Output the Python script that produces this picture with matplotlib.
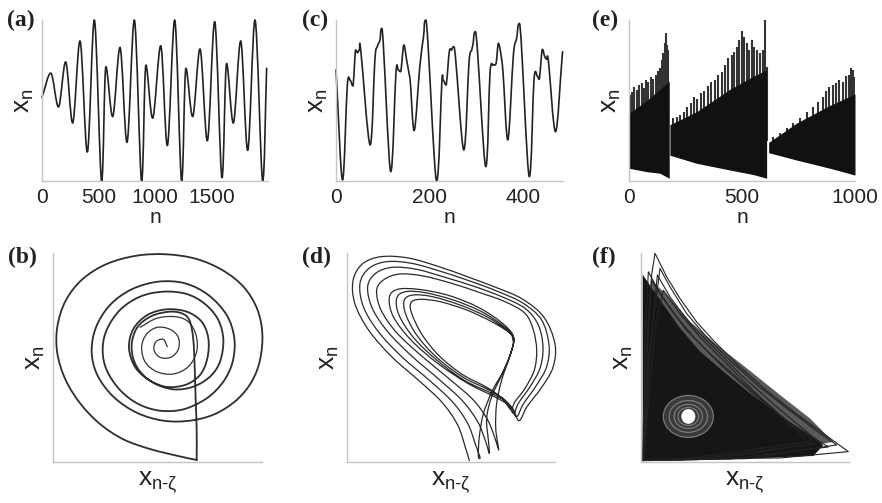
import numpy as np
import matplotlib
matplotlib.use('Agg')
import matplotlib.pyplot as plt
from matplotlib.path import Path
from matplotlib.patches import PathPatch, Ellipse

plt.rcParams['font.family'] = ['Liberation Sans', 'DejaVu Sans']
plt.rcParams['mathtext.fontset'] = 'custom'
plt.rcParams['mathtext.rm'] = 'Liberation Sans'
plt.rcParams['mathtext.it'] = 'Liberation Sans'

# (a) time series: turning points
a_n = [0, 77, 145, 209, 271, 336, 401, 463, 528, 566, 625, 690, 752, 817, 882,
       920, 979, 1050, 1109, 1174, 1236, 1274, 1333, 1398, 1463, 1528, 1593,
       1634, 1693, 1758, 1820, 1885, 1953, 1988]
a_x = [0.52, 0.67, 0.46, 0.74, 0.36, 0.87, 0.18, 1.0, 0.0, 0.71, 0.40, 0.83,
       0.24, 1.0, 0.0, 0.72, 0.39, 0.84, 0.22, 1.0, 0.0, 0.70, 0.40, 0.82,
       0.25, 0.99, 0.02, 0.73, 0.36, 0.87, 0.19, 1.0, 0.0, 0.70]

# (c) time series
c_n = [0, 14, 24, 30, 36, 42, 46, 50, 53, 73, 83, 88, 94, 98, 117, 128, 133,
       138, 145, 151, 156, 159, 167, 179, 187, 192, 215, 226, 229, 235, 242,
       247, 252, 273, 284, 290, 293, 298, 320, 329, 336, 342, 347, 352, 357,
       367, 379, 386, 392, 413, 423, 430, 434, 441, 446, 450, 454, 469, 484]
c_x = [0.69, 0.006, 0.586, 0.627, 0.59, 0.814, 0.797, 0.814, 0.81, 0.224,
       0.75, 0.834, 0.876, 0.948, 0.058, 0.669, 0.689, 0.679, 0.845, 0.75,
       0.669, 0.607, 0.313, 0.71, 0.896, 1.0, 0.0, 0.607, 0.627, 0.596, 0.803,
       0.814, 0.834, 0.193, 0.731, 0.814, 0.855, 0.928, 0.089, 0.669, 0.72,
       0.731, 0.855, 0.793, 0.669, 0.255, 0.783, 0.886, 0.979, 0.027, 0.627,
       0.652, 0.631, 0.818, 0.772, 0.756, 0.741, 0.306, 0.803]

# (e) three bursts: envelope of the dense band and the tallest spikes
e_seg_n = [[0, 78, 137, 178], [181, 299, 447, 550, 609], [618, 742, 889, 1000]]
e_seg_lo = [[0.079, 0.058, 0.048, 0.017], [0.16, 0.11, 0.068, 0.04, 0.017],
            [0.176, 0.13, 0.079, 0.037]]
e_seg_hi = [[0.42, 0.50, 0.57, 0.62], [0.35, 0.43, 0.57, 0.65, 0.69],
            [0.24, 0.36, 0.47, 0.54]]
e_spike_n = [[4, 15, 24, 34, 44, 56, 66, 75, 86, 96, 108, 118, 127, 137, 146,
              152, 159, 164, 170, 174],
             [193, 211, 226, 243, 258, 274, 288, 302, 317, 332, 348, 363, 381,
              395, 410, 425, 440, 454, 465, 476, 488, 499, 509, 521, 532, 543,
              553, 565, 580, 591, 602, 609],
             [639, 668, 698, 727, 757, 786, 816, 838, 857, 872, 886, 901, 916,
              931, 945, 960, 972, 981, 990, 999]]
e_spike_top = [[0.534, 0.555, 0.582, 0.567, 0.598, 0.609, 0.577, 0.627, 0.617,
                0.644, 0.633, 0.660, 0.681, 0.700, 0.752, 0.793, 0.855, 0.921,
                0.845, 0.814],
               [0.389, 0.400, 0.410, 0.431, 0.458, 0.482, 0.524, 0.507, 0.545,
                0.561, 0.590, 0.617, 0.627, 0.658, 0.679, 0.720, 0.762, 0.783,
                0.803, 0.834, 0.876, 0.932, 0.896, 0.855, 0.814, 0.876, 0.834,
                0.814, 0.793, 0.814, 1.0, 0.710],
               [0.275, 0.296, 0.327, 0.358, 0.389, 0.431, 0.462, 0.493, 0.524,
                0.561, 0.582, 0.596, 0.607, 0.627, 0.617, 0.652, 0.658, 0.700,
                0.689, 0.644]]
e_spike_base = [0.3, 0.25, 0.2]

# (b) delay portrait: one cycle (outer loop, rings, stem) and the start-up spiral
b_u = [440, 380, 300, 220, 150, 92, 47, 22, 22, 47, 97, 170, 260, 350, 440,
       520, 582, 622, 637, 630, 605, 560, 495, 420, 340, 260, 190, 142, 125,
       138, 180, 245, 325, 405, 475, 530, 553, 548, 520, 470, 400, 330, 265,
       210, 170, 158, 170, 210, 270, 340, 410, 465, 505, 520, 510, 480, 430,
       370, 310, 258, 237, 250, 292, 350, 410, 455, 475, 472, 450, 405, 345,
       290, 255, 245, 262, 305, 360, 400, 420, 430, 434, 437, 440, 440]
b_v = [6, 19, 39, 68, 114, 174, 246, 326, 406, 484, 548, 594, 619, 623, 609,
       574, 524, 458, 384, 306, 241, 186, 144, 124, 124, 148, 196, 261, 331,
       404, 471, 518, 541, 536, 501, 441, 371, 301, 241, 191, 158, 154, 174,
       216, 276, 336, 396, 456, 496, 511, 504, 474, 426, 366, 301, 256, 226,
       218, 238, 281, 341, 399, 441, 458, 451, 421, 371, 311, 261, 231, 226,
       251, 296, 351, 404, 438, 451, 444, 421, 366, 286, 186, 96, 6]
b0_u = [352, 340, 318, 312, 330, 362, 385, 385, 360, 322, 290, 275, 285, 320,
        370, 415, 440, 438, 415, 375, 320, 270]
b0_v = [346, 368, 361, 336, 314, 314, 338, 374, 398, 404, 384, 346, 301, 271,
        264, 286, 331, 381, 421, 436, 431, 404]

# (d) delay portrait: four successive turns
d_u = [373, 362, 338, 292, 222, 142, 72, 30, 24, 52, 108, 190, 282, 372, 452,
       532, 597, 630, 624, 590, 546, 522, 500, 448, 368, 278, 198, 145, 133,
       158, 220, 310, 400, 470, 505, 500, 476, 442, 415, 403, 400,
       405, 392, 368, 322, 252, 170, 100, 55, 45, 72, 125, 200, 290, 380, 460,
       535, 590, 612, 605, 575, 535, 514, 492, 440, 360, 275, 205, 162, 155,
       182, 240, 325, 410, 475, 505, 497, 470, 440, 425, 430, 433,
       422, 398, 352, 282, 200, 128, 82, 68, 92, 142, 215, 300, 390, 470, 540,
       580, 594, 585, 555, 520, 505, 482, 432, 355, 275, 215, 182, 178, 205,
       262, 345, 425, 485, 506, 494, 470, 455, 452, 458, 461,
       450, 428, 385, 312, 230, 155, 108, 95, 118, 165, 235, 320, 405, 480,
       540, 565, 575, 568, 540, 510, 497, 472, 425, 350, 280, 230, 200, 198,
       225, 285, 365, 440, 495, 505]
d_v = [4, 41, 111, 178, 244, 314, 394, 474, 544, 594, 616, 612, 586, 554, 524,
       489, 434, 354, 284, 224, 166, 124, 164, 196, 236, 296, 366, 436, 494,
       518, 518, 500, 464, 418, 378, 334, 274, 214, 144, 76, 18,
       14, 51, 116, 181, 246, 316, 391, 466, 536, 581, 601, 596, 571, 541, 511,
       476, 426, 351, 286, 231, 174, 136, 174, 206, 244, 306, 374, 441, 491,
       511, 508, 486, 451, 408, 374, 326, 261, 196, 131, 66, 26,
       61, 121, 184, 248, 318, 391, 461, 526, 566, 584, 578, 554, 526, 496, 461,
       411, 344, 281, 226, 176, 146, 184, 216, 254, 314, 381, 444, 486, 501,
       496, 471, 436, 396, 368, 316, 246, 176, 106, 56, 36,
       71, 126, 186, 250, 318, 388, 456, 516, 548, 564, 558, 536, 508, 481,
       446, 396, 336, 276, 221, 181, 158, 191, 224, 264, 321, 384, 446, 478,
       488, 481, 456, 421, 386, 361]

# (f) delay portrait: outer triangular turns, the dense core and the hole
f_loops_u = [[190, 200, 215, 225, 260, 300, 350, 400, 470, 560, 650, 740, 805, 600, 190],
             [190, 205, 240, 270, 320, 380, 450, 540, 630, 710, 770, 500, 190],
             [188, 195, 205, 240, 290, 350, 430, 520, 620, 700, 745, 450, 188],
             [190, 210, 232, 270, 330, 400, 480, 580, 670, 720, 400, 190],
             [188, 200, 215, 260, 320, 390, 470, 560, 650, 690, 350, 188],
             [190, 225, 250, 300, 360, 440, 530, 620, 700, 300, 190]]
f_loops_v = [[8, 350, 560, 623, 553, 488, 418, 363, 293, 213, 143, 78, 31, 12, 8],
             [5, 300, 578, 523, 443, 373, 303, 223, 153, 93, 51, 10, 5],
             [6, 350, 568, 503, 433, 363, 283, 203, 123, 73, 45, 9, 6],
             [4, 330, 558, 493, 413, 343, 263, 173, 98, 58, 8, 4],
             [5, 300, 543, 473, 393, 323, 253, 173, 93, 53, 7, 5],
             [5, 400, 513, 443, 373, 293, 203, 123, 63, 6, 5]]
f_core_u = [188, 188, 215, 250, 300, 360, 430, 510, 600, 680, 730, 700, 500, 190]
f_core_v = [5, 560, 520, 470, 400, 330, 270, 205, 140, 85, 50, 18, 10, 5]
f_haze_u = [215, 260, 330, 410, 500, 600, 690, 760, 640, 420, 230]
f_haze_v = [540, 500, 420, 350, 280, 200, 130, 60, 40, 120, 300]
f_ring_xy = (325, 136)
f_ring_w = [150, 115, 85, 62]
f_ring_h = [125, 95, 72, 54]
f_hole_w, f_hole_h = 42, 44


def smooth_curve(ax, xs, ys, series=False, lw=1.0, color='#222222'):
    x = np.asarray(xs, float)
    y = np.asarray(ys, float)
    tx = np.gradient(x)
    ty = np.gradient(y)
    if series:
        turn = np.zeros(len(y), bool)
        turn[1:-1] = (y[1:-1] - y[:-2]) * (y[2:] - y[1:-1]) <= 0
        ty[turn] = 0
    verts = [(x[0], y[0])]
    codes = [Path.MOVETO]
    for i in range(len(x) - 1):
        verts += [(x[i] + tx[i] / 3, y[i] + ty[i] / 3),
                  (x[i + 1] - tx[i + 1] / 3, y[i + 1] - ty[i + 1] / 3),
                  (x[i + 1], y[i + 1])]
        codes += [Path.CURVE4] * 3
    ax.add_patch(PathPatch(Path(verts, codes), fill=False, lw=lw,
                           edgecolor=color, clip_on=False, capstyle='round',
                           joinstyle='round'))


def style(ax, ticks=None):
    for s in ['top', 'right']:
        ax.spines[s].set_visible(False)
    for s in ['left', 'bottom']:
        ax.spines[s].set_color('#c4c4c4')
        ax.spines[s].set_linewidth(1.0)
    ax.set_yticks([])
    if ticks is None:
        ax.set_xticks([])
    else:
        ax.set_xticks(ticks)
    ax.tick_params(length=0, labelsize=15, pad=5, labelcolor='#222222')


fig = plt.figure(figsize=(8.82, 5.03), dpi=100)
W, H = 882, 503


def box(l, t, r, b):
    return [l / W, 1 - b / H, (r - l) / W, (b - t) / H]


ax_a = fig.add_axes(box(42, 20, 268, 181))
ax_c = fig.add_axes(box(336, 20, 563, 181))
ax_e = fig.add_axes(box(629, 20, 855, 181))
ax_b = fig.add_axes(box(53, 253, 262, 462))
ax_d = fig.add_axes(box(347, 253, 555, 462))
ax_f = fig.add_axes(box(641, 253, 849, 462))

# top row: time series
smooth_curve(ax_a, a_n, a_x, series=True, lw=1.2)
ax_a.set_xlim(0, 2000)
ax_a.set_ylim(0, 1)
style(ax_a, [0, 500, 1000, 1500])

smooth_curve(ax_c, c_n, c_x, series=True, lw=1.2)
ax_c.set_xlim(0, 485)
ax_c.set_ylim(0, 1)
style(ax_c, [0, 200, 400])

for n, lo, hi, sn, st, base in zip(e_seg_n, e_seg_lo, e_seg_hi, e_spike_n,
                                   e_spike_top, e_spike_base):
    ax_e.vlines(sn, base, st, color='#333333', lw=1.5, zorder=1)
    ax_e.fill_between(n, lo, hi, color='#111111', lw=0, zorder=2)
ax_e.set_xlim(0, 1000)
ax_e.set_ylim(0, 1)
style(ax_e, [0, 500, 1000])

for ax in [ax_a, ax_c, ax_e]:
    ax.set_xlabel('n', fontsize=15, labelpad=1, color='#222222')
    ax.set_ylabel(r'$\mathregular{x_n}$', fontsize=19, labelpad=4,
                  color='#222222')

# bottom row: delay portraits
smooth_curve(ax_b, b_u, b_v, lw=1.3, color='#2e2e2e')
smooth_curve(ax_b, b0_u, b0_v, lw=0.9, color='#333333')
ax_b.set_xlim(9, 636)
ax_b.set_ylim(0, 627)

smooth_curve(ax_d, d_u, d_v, lw=0.9, color='#2a2a2a')
ax_d.set_xlim(6, 630)
ax_d.set_ylim(0, 627)

ax_f.fill(f_haze_u, f_haze_v, color='#5a5a5a', lw=0)
ax_f.fill(f_core_u, f_core_v, color='#161616', lw=0)
ax_f.add_patch(Ellipse(f_ring_xy, f_ring_w[0], f_ring_h[0], color='#3a3a3a',
                       lw=0))
for w, h in zip(f_ring_w, f_ring_h):
    ax_f.add_patch(Ellipse(f_ring_xy, w, h, fill=False, edgecolor='#7a7a7a',
                           lw=0.9))
ax_f.add_patch(Ellipse(f_ring_xy, f_hole_w, f_hole_h, color='white', lw=0))
for u, v in zip(f_loops_u, f_loops_v):
    ax_f.plot(u, v, color='#222222', lw=0.8, clip_on=False)
ax_f.set_xlim(183, 807)
ax_f.set_ylim(0, 624)

for ax in [ax_b, ax_d, ax_f]:
    style(ax)
    ax.set_xlabel(r'$\mathregular{x_{n\text{-}ζ}}$', fontsize=19, labelpad=6,
                  color='#222222')
    ax.set_ylabel(r'$\mathregular{x_n}$', fontsize=19, labelpad=4,
                  color='#222222')

letters = ['(a)', '(c)', '(e)', '(b)', '(d)', '(f)']
pos = [(7, 10), (302, 10), (592, 10), (8, 247), (302, 247), (592, 247)]
for s, (x, y) in zip(letters, pos):
    fig.text(x / W, 1 - y / H, s, fontsize=17, fontweight='bold',
             family='Liberation Serif', va='top', ha='left', color='#222222')

fig.savefig('out.png', dpi=100)
